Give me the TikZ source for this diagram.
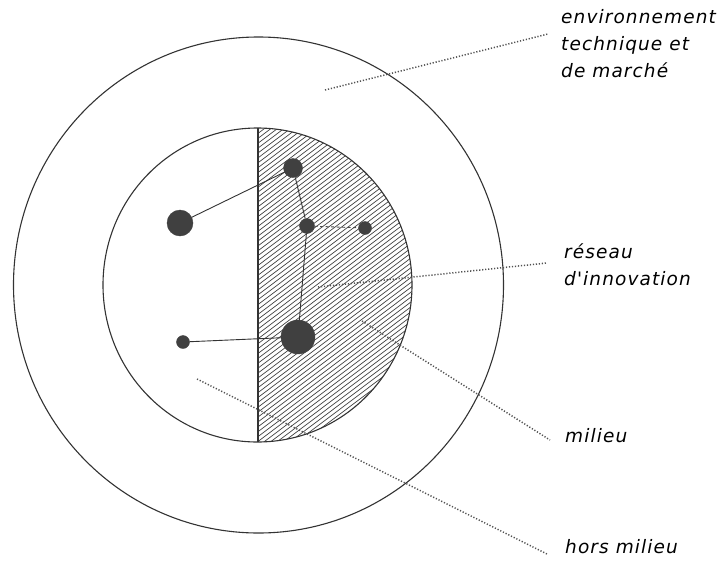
\documentclass[tikz,border=0pt]{standalone}
\usepackage{fontspec}
\setmainfont{TeX Gyre Heros}
\newfontfamily\lblfont[LetterSpace=6]{DejaVu Sans}
\begin{document}
\begin{tikzpicture}[x=1pt,y=-1pt,
  ring/.style={draw=black!80,line width=1.1pt},
  hatchline/.style={draw=black!75,line width=0.7pt},
  dotnode/.style={circle,fill=black!75,draw=black!75,inner sep=0pt,minimum size=#1},
  link/.style={draw=black!80,line width=0.9pt},
  dlink/.style={draw=black!70,line width=0.9pt,dash pattern=on 3pt off 2.5pt},
  leader/.style={draw=black!68,line width=1.5pt,dash pattern=on 1.2pt off 1.8pt},
  lbl/.style={anchor=west,font=\lblfont\itshape\fontsize{18.5}{27}\selectfont,inner sep=0pt,align=left}]
\useasboundingbox (0,0) rectangle (728,560);
% hatched half (milieu)
\begin{scope}
  \clip (258,100) rectangle (460,470);
  \clip (257.5,285) ellipse[x radius=154.5,y radius=157];
  \foreach \k in {-80,...,80} {
    \draw[hatchline] ({258+\k*6.5-226},{285+170}) -- ({258+\k*6.5+226},{285-170});
  }
\end{scope}
% circles
\draw[ring] (258.5,285) ellipse[x radius=245,y radius=248];
\draw[ring] (257.5,285) ellipse[x radius=154.5,y radius=157];
\draw[ring] (258,128) -- (258,442);
% actors
\node[dotnode=19pt] (a) at (293,168) {};
\node[dotnode=26pt] (b) at (180,223) {};
\node[dotnode=15pt] (c) at (307,226) {};
\node[dotnode=13pt] (d) at (365,228) {};
\node[dotnode=13pt] (e) at (183,342) {};
\node[dotnode=34pt] (f) at (298,337) {};
\draw[link] (b) -- (a);
\draw[link] (a) -- (c);
\draw[link] (c) -- (f);
\draw[link] (e) -- (f);
\draw[dlink] (c) -- (d);
% labels
\node[lbl] (env) at (561,44) {environnement\\technique et\\de marché};
\node[lbl] (res) at (564,265) {réseau\\d'innovation};
\node[lbl] (mil) at (565,436) {milieu};
\node[lbl] (hors) at (565,547) {hors milieu};
% leaders
\coordinate (envS) at (325,90);
\coordinate (envE) at (548,34);
\coordinate (resS) at (318,287);
\coordinate (resE) at (547,263);
\coordinate (milS) at (362,321);
\coordinate (milE) at (550,440);
\coordinate (horsS) at (197,379);
\coordinate (horsE) at (547,554);
\draw[leader] (envS) -- (envE);
\draw[leader] (resS) -- (resE);
\draw[leader] (milS) -- (milE);
\draw[leader] (horsS) -- (horsE);
\end{tikzpicture}
\end{document}
